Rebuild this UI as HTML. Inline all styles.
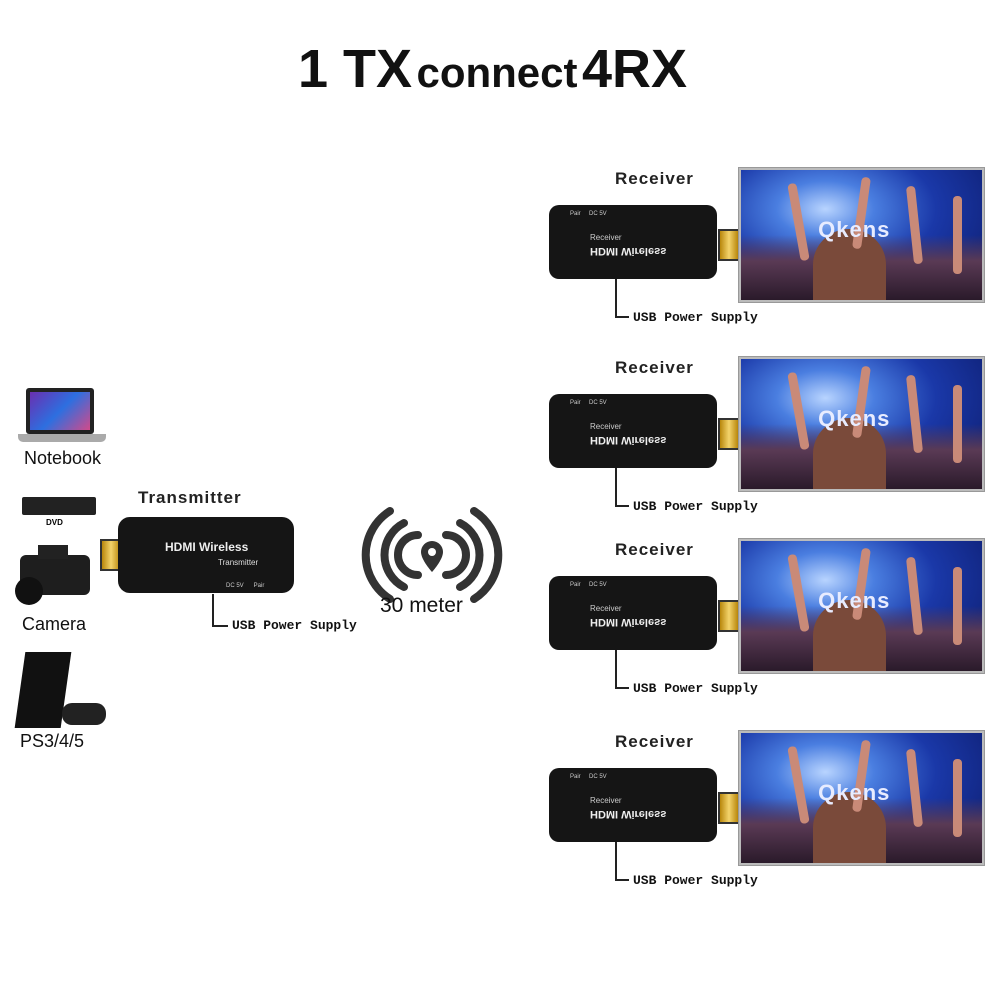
<!DOCTYPE html>
<html><head><meta charset="utf-8"><style>
body{margin:0;width:1000px;height:1000px;background:#fff;position:relative;overflow:hidden;font-family:"Liberation Sans",sans-serif}
.a{position:absolute}
.mono{font-family:"Liberation Mono",monospace;font-weight:bold;font-size:13px;color:#111}
.lab{font-weight:bold;font-size:17px;letter-spacing:1px;color:#222}
.mon{position:absolute;left:738px;width:247px;height:136px;background:#bbb;border:1px solid #999;box-sizing:border-box;padding:2px}
.scr{width:100%;height:100%;position:relative;overflow:hidden;background:radial-gradient(ellipse at 35% 30%,#b8d4ff 0%,#4a7ee0 22%,#1a38a8 50%,#0a1660 100%)}
.crowd{position:absolute;left:0;bottom:0;width:100%;height:50%;background:linear-gradient(180deg,rgba(60,30,60,0) 0%,#5a3a55 40%,#2a1a2a 100%)}
.hair{position:absolute;left:30%;bottom:0;width:30%;height:55%;border-radius:50% 50% 0 0;background:#7a4a3a}
.q{position:absolute;left:32%;top:36%;color:#e8ecff;font-weight:bold;font-size:22px;letter-spacing:1px}
.arm{position:absolute;width:9px;background:#c98a78;border-radius:4px}
.dg{position:absolute;width:168px;height:74px;background:#151515;border-radius:10px}
.plug{position:absolute;width:18px;height:28px;background:linear-gradient(90deg,#b8860b,#f3d36b,#b8860b);border:2px solid #333}
</style></head><body>
<div class="a" style="left:0;top:38px;width:985px;text-align:center;font-weight:bold;color:#111"><span style="font-size:54px">1 TX</span> <span style="font-size:42px">connect</span> <span style="font-size:54px">4RX</span></div>

<div class="a" style="left:26px;top:388px;width:68px;height:46px;background:#222;border-radius:3px"><div style="margin:4px;height:38px;background:linear-gradient(135deg,#6a2fb0,#2d6fe0,#d14a8a)"></div></div>
<div class="a" style="left:18px;top:434px;width:88px;height:8px;background:#aaa;border-radius:0 0 5px 5px"></div>
<div class="a" style="left:24px;top:448px;font-size:18px;color:#111">Notebook</div>
<div class="a" style="left:22px;top:497px;width:74px;height:18px;background:#222;border-radius:2px"></div>
<div class="a" style="left:46px;top:518px;font-size:8px;font-weight:bold">DVD</div>
<div class="a" style="left:20px;top:555px;width:70px;height:40px;background:#1e1e1e;border-radius:6px"></div>
<div class="a" style="left:15px;top:577px;width:28px;height:28px;background:#111;border-radius:50%"></div>
<div class="a" style="left:38px;top:545px;width:30px;height:14px;background:#222"></div>
<div class="a" style="left:22px;top:614px;font-size:18px;color:#111">Camera</div>
<div class="a" style="left:20px;top:652px;width:46px;height:76px;background:#111;transform:skewX(-8deg)"></div>
<div class="a" style="left:62px;top:703px;width:44px;height:22px;background:#222;border-radius:10px"></div>
<div class="a" style="left:20px;top:731px;font-size:18px;color:#111">PS3/4/5</div>

<div class="a lab" style="left:138px;top:488px">Transmitter</div>
<div class="plug" style="left:100px;top:539px"></div>
<div class="a" style="left:118px;top:517px;width:176px;height:76px;background:#151515;border-radius:12px"></div>
<div class="a" style="left:165px;top:540px;color:#eee;font-weight:bold;font-size:12px">HDMI Wireless</div>
<div class="a" style="left:218px;top:558px;color:#ddd;font-size:8px">Transmitter</div>
<div class="a" style="left:226px;top:583px;color:#ccc;font-size:6px">DC 5V &nbsp;&nbsp;&nbsp;&nbsp; Pair</div>
<div class="a" style="left:212px;top:594px;width:2px;height:32px;background:#222"></div>
<div class="a" style="left:212px;top:625px;width:16px;height:2px;background:#222"></div>
<div class="a mono" style="left:232px;top:618px">USB Power Supply</div>

<svg class="a" style="left:360px;top:505px" width="145" height="100">
<g fill="none" stroke="#333" stroke-width="8" stroke-linecap="round">
<path d="M58 30 A18 18 0 0 0 58 70"/><path d="M86 30 A18 18 0 0 1 86 70"/>
<path d="M44 18 A36 36 0 0 0 44 82"/><path d="M100 18 A36 36 0 0 1 100 82"/>
<path d="M30 6 A52 52 0 0 0 30 94"/><path d="M114 6 A52 52 0 0 1 114 94"/></g>
<path d="M72 36 a11 11 0 0 1 11 11 c0 8 -11 20 -11 20 c0 0 -11 -12 -11 -20 a11 11 0 0 1 11 -11z" fill="#333"/><circle cx="72" cy="47" r="4" fill="#fff"/>
</svg>
<div class="a" style="left:380px;top:594px;font-size:21px;color:#111">30 meter</div>

<div id="rx"></div>
<script>
var ys=[167,356,538,730],html='';
ys.forEach(function(y){
html+='<div class="a lab" style="left:615px;top:'+(y+2)+'px">Receiver</div>'+
'<div class="dg" style="left:549px;top:'+(y+38)+'px"></div>'+
'<div class="plug" style="left:718px;top:'+(y+62)+'px"></div>'+
'<div class="a" style="left:590px;top:'+(y+78)+'px;color:#eee;font-weight:bold;font-size:11px;transform:rotate(180deg) scaleX(-1)">HDMI Wireless</div>'+
'<div class="a" style="left:590px;top:'+(y+66)+'px;color:#ccc;font-size:8px">Receiver</div>'+
'<div class="a" style="left:570px;top:'+(y+44)+'px;color:#ccc;font-size:6px">Pair &nbsp;&nbsp;&nbsp; DC 5V</div>'+
'<div class="a" style="left:615px;top:'+(y+112)+'px;width:2px;height:38px;background:#222"></div>'+
'<div class="a" style="left:615px;top:'+(y+149)+'px;width:14px;height:2px;background:#222"></div>'+
'<div class="a mono" style="left:633px;top:'+(y+143)+'px">USB Power Supply</div>'+
'<div class="mon" style="top:'+y+'px"><div class="scr"><div class="crowd"></div><div class="hair"></div>'+
'<div class="arm" style="left:22%;top:10%;height:60%;transform:rotate(-10deg)"></div>'+
'<div class="arm" style="left:48%;top:5%;height:55%;transform:rotate(8deg)"></div>'+
'<div class="arm" style="left:70%;top:12%;height:60%;transform:rotate(-6deg)"></div>'+
'<div class="arm" style="left:88%;top:20%;height:60%"></div>'+
'<div class="q">Qkens</div></div></div>';
});
document.getElementById('rx').innerHTML=html;
</script>
</body></html>
